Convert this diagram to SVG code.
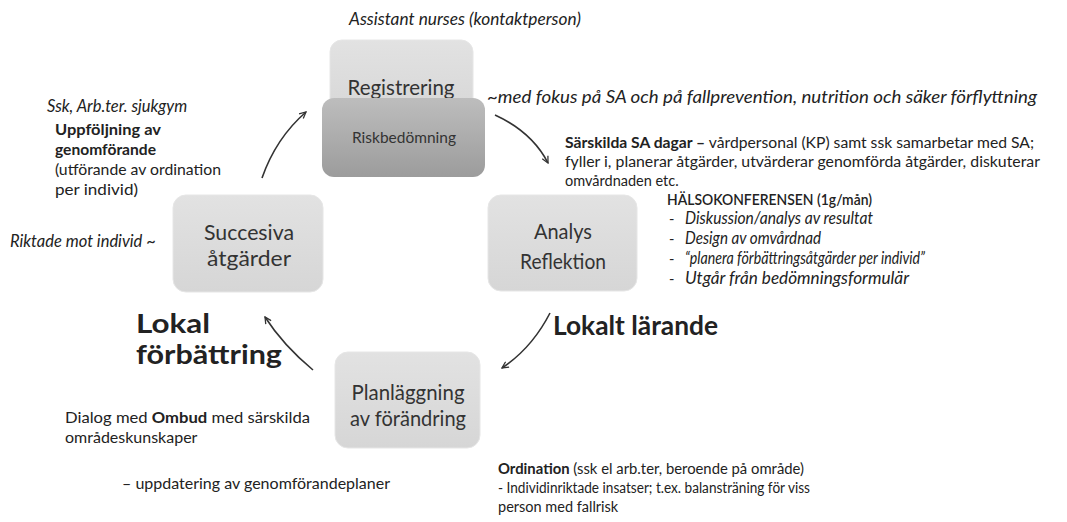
<svg xmlns="http://www.w3.org/2000/svg" width="1067" height="522" viewBox="0 0 1067 522">
<defs>
<style>
text{font-family:Lato,"Liberation Sans",sans-serif;fill:#222;}
.b{font-size:14.5px;}
.i{font-size:16.5px;font-style:italic;}
.bd{font-weight:bold;}
.l{font-size:16px;}
.big{font-size:26px;font-weight:bold;}
.node{font-size:20.5px;fill:#333;text-anchor:middle;}
.box{fill:url(#lg);stroke:#e6e6e6;stroke-width:1;}
.conn{fill:none;stroke:#333;stroke-width:1.6;marker-end:url(#ah);}
</style>
<linearGradient id="lg" x1="0" y1="0" x2="0" y2="1">
<stop offset="0" stop-color="#e2e2e2"/>
<stop offset="1" stop-color="#d6d6d6"/>
</linearGradient>
<linearGradient id="dg" x1="0" y1="0" x2="0" y2="1">
<stop offset="0" stop-color="#bdbdbd"/>
<stop offset="1" stop-color="#9c9c9c"/>
</linearGradient>
<marker id="ah" viewBox="0 0 10 10" refX="9" refY="5" markerWidth="8" markerHeight="8" orient="auto" markerUnits="userSpaceOnUse">
<path d="M1,1 L9,5 L1,9" fill="none" stroke="#333" stroke-width="1.6"/>
</marker>
</defs>
<rect width="1067" height="522" fill="#fff"/>

<g id="connectors">
<path class="conn" d="M262,178 Q276,138 306,112"/>
<path class="conn" d="M495,115 Q532,132 548,163"/>
<path class="conn" d="M550,313 Q532,348 502,368"/>
<path class="conn" d="M313,370 Q283,345 265,317"/>
</g>

<g id="registrering">
<rect class="box" x="330" y="40" width="143" height="80" rx="12"/>
<text class="node" x="401" y="95" textLength="107" lengthAdjust="spacingAndGlyphs">Registrering</text>
</g>
<g id="riskbedomning">
<rect x="322" y="98" width="163" height="79" rx="12" fill="url(#dg)"/>
<text class="node" x="404" y="143" style="font-size:14.5px" textLength="104" lengthAdjust="spacingAndGlyphs">Riskbedömning</text>
</g>
<g id="succesiva">
<rect class="box" x="173" y="195" width="150" height="97" rx="13"/>
<text class="node" x="249" y="240" textLength="90" lengthAdjust="spacingAndGlyphs">Succesiva</text>
<text class="node" x="249" y="266" textLength="84" lengthAdjust="spacingAndGlyphs">åtgärder</text>
</g>
<g id="analys">
<rect class="box" x="488" y="195" width="149" height="96" rx="13"/>
<text class="node" x="563" y="239" textLength="58" lengthAdjust="spacingAndGlyphs">Analys</text>
<text class="node" x="563" y="269" textLength="86" lengthAdjust="spacingAndGlyphs">Reflektion</text>
</g>
<g id="planlaggning">
<rect class="box" x="335" y="352" width="145" height="96" rx="13"/>
<text class="node" x="408" y="400" textLength="113" lengthAdjust="spacingAndGlyphs">Planläggning</text>
<text class="node" x="408" y="426" textLength="116" lengthAdjust="spacingAndGlyphs">av förändring</text>
</g>

<g id="labels">
<text class="i" x="349" y="25" textLength="232" lengthAdjust="spacingAndGlyphs">Assistant nurses (kontaktperson)</text>
<text class="i" x="487" y="103" textLength="550" lengthAdjust="spacingAndGlyphs">~med fokus på SA och på fallprevention, nutrition och säker förflyttning</text>
<text class="b" x="565" y="148" textLength="469" lengthAdjust="spacingAndGlyphs"><tspan class="bd">Särskilda SA dagar –</tspan> vårdpersonal (KP) samt ssk samarbetar med SA;</text>
<text class="b" x="565" y="167" textLength="475" lengthAdjust="spacingAndGlyphs">fyller i, planerar åtgärder, utvärderar genomförda åtgärder, diskuterar</text>
<text class="b" x="565" y="186">omvårdnaden etc.</text>
<text x="667" y="205" style="font-size:16px;font-weight:600" textLength="205" lengthAdjust="spacingAndGlyphs">HÄLSOKONFERENSEN (1g/mån)</text>
<text class="b" x="669" y="224">-</text><text class="i" x="685" y="224" textLength="188" lengthAdjust="spacingAndGlyphs">Diskussion/analys av resultat</text>
<text class="b" x="669" y="244">-</text><text class="i" x="685" y="244" textLength="136" lengthAdjust="spacingAndGlyphs">Design av omvårdnad</text>
<text class="b" x="669" y="264">-</text><text class="i" x="685" y="264" textLength="240" lengthAdjust="spacingAndGlyphs">“planera förbättringsåtgärder per individ”</text>
<text class="b" x="669" y="284">-</text><text class="i" x="685" y="284" textLength="224" lengthAdjust="spacingAndGlyphs">Utgår från bedömningsformulär</text>

<text class="i" x="47" y="112">Ssk, Arb.ter. sjukgym</text>
<text class="l bd" x="55" y="135" textLength="106" lengthAdjust="spacingAndGlyphs">Uppföljning av</text>
<text class="l bd" x="55" y="155" textLength="101" lengthAdjust="spacingAndGlyphs">genomförande</text>
<text class="l" x="55" y="175" textLength="166" lengthAdjust="spacingAndGlyphs">(utförande av ordination</text>
<text class="l" x="55" y="195" textLength="83" lengthAdjust="spacingAndGlyphs">per individ)</text>
<text class="i" x="10" y="247">Riktade mot individ ~</text>

<text class="big" x="136" y="333" textLength="74" lengthAdjust="spacingAndGlyphs">Lokal</text>
<text class="big" x="136" y="364" textLength="146" lengthAdjust="spacingAndGlyphs">förbättring</text>
<text class="big" x="553" y="335" textLength="165" lengthAdjust="spacingAndGlyphs">Lokalt lärande</text>

<text class="l" x="65" y="423" textLength="245" lengthAdjust="spacingAndGlyphs">Dialog med <tspan class="bd">Ombud</tspan> med särskilda</text>
<text class="l" x="65" y="443">områdeskunskaper</text>
<text class="l" x="122" y="489" textLength="268" lengthAdjust="spacingAndGlyphs">– uppdatering av genomförandeplaner</text>

<text class="b" x="498" y="474" textLength="306" lengthAdjust="spacingAndGlyphs"><tspan class="bd">Ordination</tspan> (ssk el arb.ter, beroende på område)</text>
<text class="b" x="498" y="493" textLength="312" lengthAdjust="spacingAndGlyphs">- Individinriktade insatser; t.ex. balansträning för viss</text>
<text class="b" x="498" y="512">person med fallrisk</text>
</g>
</svg>
